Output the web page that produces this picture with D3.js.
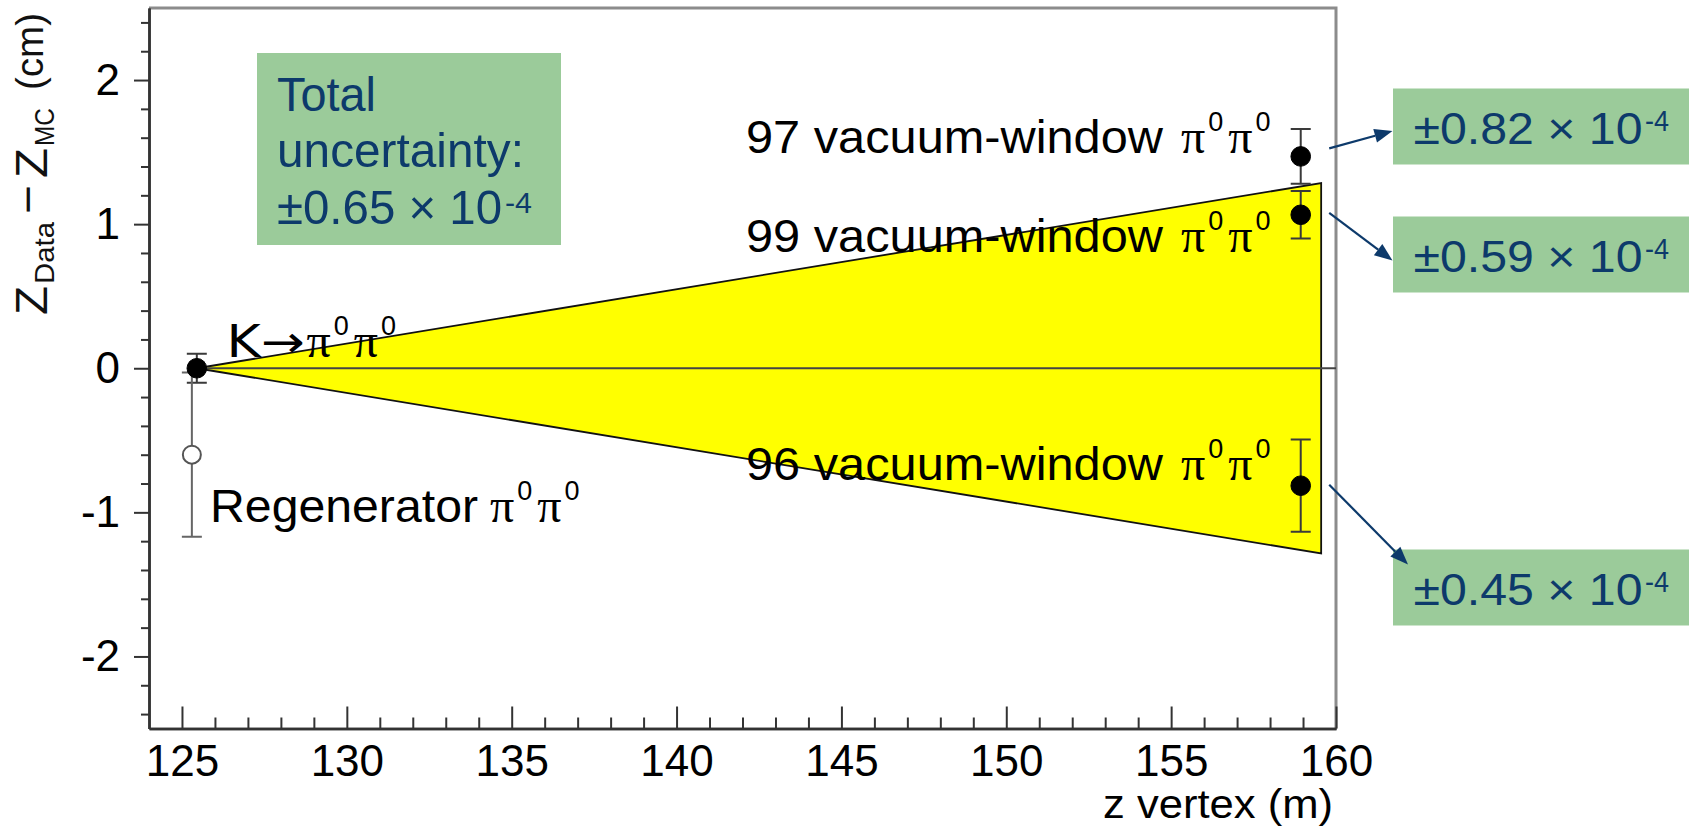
<!DOCTYPE html>
<html>
<head>
<meta charset="utf-8">
<script src="https://cdn.jsdelivr.net/npm/d3@7"></script>
<style>
  html, body { margin: 0; padding: 0; background: #fff; }
  svg { display: block; }
  text { font-family: "Liberation Sans", Arial, Helvetica, sans-serif; }
</style>
</head>
<body>
<svg id="chart" width="1689" height="826"></svg>
<script>
// ---- data ----------------------------------------------------------------
const sampleLabels   = ["K\u2192", "Regenerator", "97 vacuum-window", "99 vacuum-window", "96 vacuum-window"];
const zVertex        = [125.45, 125.30, 158.93, 158.93, 158.93];   // m
const dzValue        = [0.000, -0.600, 1.470, 1.065, -0.815];      // cm
const dzError        = [0.100, 0.570, 0.190, 0.165, 0.320];        // cm
const markerFilled   = [true, false, true, true, true];

// uncertainty band (fanning out from the K->pi0pi0 point)
const bandZ          = [125.45, 159.55];
const bandHalfWidth  = [0.0, 1.285];

const xTickValues = [125, 130, 135, 140, 145, 150, 155, 160];
const xTickLabels = ["125", "130", "135", "140", "145", "150", "155", "160"];
const yTickValues = [-2, -1, 0, 1, 2];
const yTickLabels = ["-2", "-1", "0", "1", "2"];

const totalUncertainty = "\u00b10.65";
const pointUncertainty = ["\u00b10.82", "\u00b10.59", "\u00b10.45"];   // 97, 99, 96 samples
const uncertaintyExp   = "-4";

// ---- layout --------------------------------------------------------------
const svg = d3.select("#chart");
const plot = { left: 149, right: 1336, top: 8, bottom: 728.5 };
const navy = "#0d3a6b";
const green = "#9bcb9a";

const x = d3.scaleLinear().domain([124, 160]).range([plot.left, plot.right]);
const y = d3.scaleLinear().domain([-2.5, 2.5]).range([plot.bottom, plot.top]);

// frame (top & right)
svg.append("path")
  .attr("d", `M${plot.left},${plot.top}H${plot.right}V${plot.bottom}`)
  .attr("fill", "none").attr("stroke", "#8c8c8c").attr("stroke-width", 3);

// yellow band
const bandPts = [
  [x(bandZ[0]), y(bandHalfWidth[0])],
  [x(bandZ[1]), y(bandHalfWidth[1])],
  [x(bandZ[1]), y(-bandHalfWidth[1])],
  [x(bandZ[0]), y(-bandHalfWidth[0])]
];
svg.append("path")
  .attr("d", d3.line()(bandPts) + "Z")
  .attr("fill", "#ffff00").attr("stroke", "#111").attr("stroke-width", 1.8)
  .attr("stroke-linejoin", "miter");

// zero line
svg.append("line")
  .attr("x1", x(bandZ[0])).attr("x2", plot.right)
  .attr("y1", y(0)).attr("y2", y(0))
  .attr("stroke", "#444").attr("stroke-width", 2);

// axes
function styleAxis(g) {
  g.selectAll("path.domain").attr("stroke", "#333").attr("stroke-width", 2.5);
  g.selectAll(".tick line").attr("stroke", "#333").attr("stroke-width", 2);
  g.selectAll(".tick text").attr("fill", "#000")
    .style("font-family", "'Liberation Sans', Arial, sans-serif");
}

const xMinor = d3.range(125, 161, 1).filter(v => v % 5 !== 0);
svg.append("g").attr("transform", `translate(0,${plot.bottom})`)
  .call(d3.axisBottom(x).tickValues(xMinor).tickFormat("").tickSizeInner(-11).tickSizeOuter(0))
  .call(styleAxis);
svg.append("g").attr("transform", `translate(0,${plot.bottom})`)
  .call(d3.axisBottom(x).tickValues(xTickValues).tickFormat((d, i) => xTickLabels[i])
    .tickSizeInner(-22).tickSizeOuter(0).tickPadding(16))
  .call(styleAxis)
  .call(g => g.selectAll(".tick text").attr("font-size", 44));

const yMinor = d3.range(-24, 25, 2).filter(v => v % 10 !== 0).map(v => v / 10);
svg.append("g").attr("transform", `translate(${plot.left},0)`)
  .call(d3.axisLeft(y).tickValues(yMinor).tickFormat("").tickSizeInner(8).tickSizeOuter(0))
  .call(styleAxis);
svg.append("g").attr("transform", `translate(${plot.left},0)`)
  .call(d3.axisLeft(y).tickValues(yTickValues).tickFormat((d, i) => yTickLabels[i])
    .tickSizeInner(15).tickSizeOuter(0).tickPadding(14))
  .call(styleAxis)
  .call(g => g.selectAll(".tick text").attr("font-size", 44));

// axis titles
svg.append("text")
  .attr("x", 1333).attr("y", 818).attr("text-anchor", "end")
  .attr("font-size", 40).attr("textLength", 230).attr("lengthAdjust", "spacingAndGlyphs")
  .text("z vertex (m)");

const yTitle = svg.append("g").attr("transform", "translate(0,315) rotate(-90)");
const titleParts = [
  { t: "Z",        a: 0,   b: 47, fs: 45, w: 29 },
  { t: "Data",     a: 31,  b: 54, fs: 28, w: 62 },
  { t: "\u2212",   a: 101, b: 43, fs: 45, w: 29 },
  { t: "Z",        a: 137, b: 47, fs: 45, w: 30 },
  { t: "MC",       a: 169, b: 54, fs: 28, w: 38 },
  { t: "(cm)",     a: 225, b: 43, fs: 38, w: 77 }
];
yTitle.selectAll("text").data(titleParts).join("text")
  .attr("x", d => d.a).attr("y", d => d.b)
  .attr("font-size", d => d.fs)
  .attr("textLength", d => d.w).attr("lengthAdjust", "spacingAndGlyphs")
  .attr("fill", "#111")
  .text(d => d.t);

// error bars and markers
const capHalf = 10;
const pts = svg.append("g");
zVertex.forEach((z, i) => {
  const cx = x(z), lo = y(dzValue[i] - dzError[i]), hi = y(dzValue[i] + dzError[i]);
  const col = markerFilled[i] ? "#3a3a3a" : "#666";
  pts.append("path")
    .attr("d", `M${cx},${lo}V${hi}M${cx - capHalf},${lo}H${cx + capHalf}M${cx - capHalf},${hi}H${cx + capHalf}`)
    .attr("stroke", col).attr("stroke-width", 2).attr("fill", "none");
});
// draw open marker first so the filled K point sits on top
const order = d3.range(zVertex.length).sort((a, b) => (markerFilled[a] ? 1 : 0) - (markerFilled[b] ? 1 : 0));
order.forEach(i => {
  pts.append("circle")
    .attr("cx", x(zVertex[i])).attr("cy", y(dzValue[i]))
    .attr("r", markerFilled[i] ? 9.8 : 9)
    .attr("fill", markerFilled[i] ? "#000" : "#fff")
    .attr("stroke", markerFilled[i] ? "#000" : "#555")
    .attr("stroke-width", markerFilled[i] ? 1 : 2);
});

// sample labels: text followed by pi0 pi0
function piPair(g, x0, base) {
  let cx = x0;
  for (let k = 0; k < 2; k++) {
    const p = g.append("text").attr("x", cx).attr("y", base)
      .attr("font-size", 48).style("font-family", "'Liberation Serif', 'Times New Roman', serif")
      .attr("fill", "#000").text("\u03c0");
    cx += p.node().getComputedTextLength() + 3;
    const s = g.append("text").attr("x", cx).attr("y", base - 22)
      .attr("font-size", 27).attr("fill", "#000").text("0");
    cx += s.node().getComputedTextLength() + 5;
  }
  return cx;
}
const labelPos = [
  { x: 226.5, y: 357, w: 78,  gap: 2,  fs: 44 },
  { x: 210,   y: 522, w: 268, gap: 12, fs: 47 },
  { x: 746,   y: 153, w: 417, gap: 18, fs: 46 },
  { x: 746,   y: 252, w: 417, gap: 18, fs: 46 },
  { x: 746,   y: 480, w: 417, gap: 18, fs: 46 }
];
const labels = svg.append("g");
sampleLabels.forEach((s, i) => {
  const p = labelPos[i];
  labels.append("text").attr("x", p.x).attr("y", p.y)
    .attr("font-size", p.fs).attr("fill", "#000")
    .attr("textLength", p.w).attr("lengthAdjust", "spacingAndGlyphs")
    .style("font-family", i === 0 ? "'DejaVu Sans', 'Liberation Sans', sans-serif" : null)
    .text(s);
  piPair(labels, p.x + p.w + p.gap, p.y);
});

// annotation boxes
const ann = svg.append("g");
ann.append("rect").attr("x", 257).attr("y", 53).attr("width", 304).attr("height", 192).attr("fill", green);
[["Total", 110.5, 99], ["uncertainty:", 166.5, 247]].forEach(([t, by, w]) => {
  ann.append("text").attr("x", 277).attr("y", by).attr("font-size", 49).attr("fill", navy)
    .attr("textLength", w).attr("lengthAdjust", "spacingAndGlyphs").text(t);
});
ann.append("text").attr("x", 277).attr("y", 223.5).attr("font-size", 49).attr("fill", navy)
  .attr("textLength", 225).attr("lengthAdjust", "spacingAndGlyphs").text(totalUncertainty + " \u00d7 10");
ann.append("text").attr("x", 505).attr("y", 212.5).attr("font-size", 30).attr("fill", navy)
  .attr("textLength", 27).attr("lengthAdjust", "spacingAndGlyphs").text(uncertaintyExp);

const boxTop = [88.5, 216.5, 549.5];
const arrowTip = [[1392.5, 131], [1392.5, 260.5], [1408, 564.5]];
const arrowDy = [-8, -2, -1];
const pointIndex = [2, 3, 4];
pointUncertainty.forEach((u, k) => {
  const top = boxTop[k];
  ann.append("rect").attr("x", 1393).attr("y", top).attr("width", 296).attr("height", 76).attr("fill", green);
  ann.append("text").attr("x", 1413.5).attr("y", top + 55).attr("font-size", 44).attr("fill", navy)
    .attr("textLength", 229).attr("lengthAdjust", "spacingAndGlyphs").text(u + " \u00d7 10");
  ann.append("text").attr("x", 1645).attr("y", top + 42).attr("font-size", 30).attr("fill", navy)
    .attr("textLength", 24).attr("lengthAdjust", "spacingAndGlyphs").text(uncertaintyExp);

  // arrow from the data point to its box
  const i = pointIndex[k];
  const sx = x(zVertex[i]) + 28.5, sy = y(dzValue[i]) + arrowDy[k];
  const [tx, ty] = arrowTip[k];
  const ang = Math.atan2(ty - sy, tx - sx);
  const L = 18, W = 7;
  const bx = tx - L * Math.cos(ang), by = ty - L * Math.sin(ang);
  ann.append("line").attr("x1", sx).attr("y1", sy).attr("x2", bx).attr("y2", by)
    .attr("stroke", navy).attr("stroke-width", 2.2);
  ann.append("path")
    .attr("d", `M${tx},${ty}L${bx + W * Math.sin(ang)},${by - W * Math.cos(ang)}L${bx - W * Math.sin(ang)},${by + W * Math.cos(ang)}Z`)
    .attr("fill", navy);
});
</script>
</body>
</html>
